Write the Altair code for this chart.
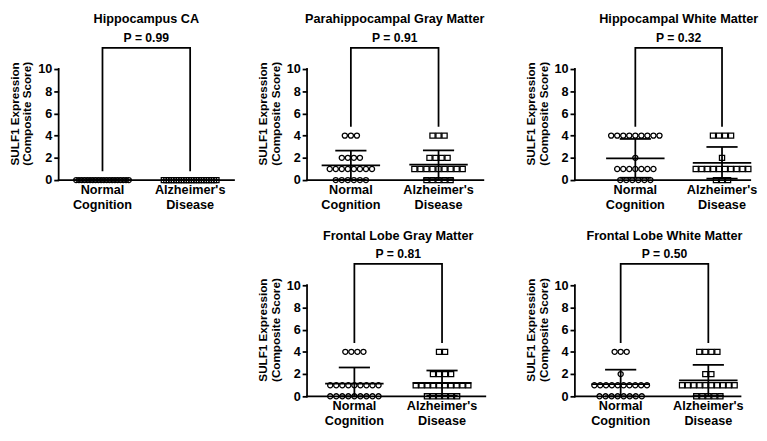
import altair as alt
import pandas as pd
import numpy as np

# ---------------- data ----------------
TITLES = ["Hippocampus CA", "Parahippocampal Gray Matter", "Hippocampal White Matter",
          "Frontal Lobe Gray Matter", "Frontal Lobe White Matter"]
P_VALUES = ["P = 0.99", "P = 0.91", "P = 0.32", "P = 0.81", "P = 0.50"]
CAT_LINE1 = ["Normal", "Alzheimer's"]
CAT_LINE2 = ["Cognition", "Disease"]
Y_TICKS = [0, 2, 4, 6, 8, 10]
Y_TITLE = ["SULF1 Expression", "(Composite Score)"]

HC_NORMAL = [0, 0, 0, 0, 0, 0, 0, 0, 0, 0, 0, 0, 0, 0, 0, 0, 0, 0, 0, 0]
HC_AD = [0, 0, 0, 0, 0, 0, 0, 0, 0, 0, 0, 0, 0, 0, 0, 0, 0, 0, 0, 0, 0, 0]
PHG_NORMAL = [4, 4, 4, 2, 2, 2, 2, 1, 1, 1, 1, 1, 1, 1, 1, 0, 0, 0, 0, 0, 0]
PHG_AD = [4, 4, 4, 2, 2, 2, 2, 1, 1, 1, 1, 1, 1, 1, 1, 1, 0, 0, 0, 0, 0]
HWM_NORMAL = [4, 4, 4, 4, 4, 4, 4, 4, 4, 2, 1, 1, 1, 1, 1, 1, 1, 0, 0, 0, 0, 0, 0]
HWM_AD = [4, 4, 4, 4, 2, 1, 1, 1, 1, 1, 1, 1, 1, 1, 1, 0, 0, 0]
FGM_NORMAL = [4, 4, 4, 4, 1, 1, 1, 1, 1, 1, 1, 1, 1, 0, 0, 0, 0, 0, 0, 0, 0, 0]
FGM_AD = [4, 4, 2, 2, 2, 2, 1, 1, 1, 1, 1, 1, 1, 1, 1, 1, 0, 0, 0, 0, 0, 0]
FWM_NORMAL = [4, 4, 4, 2, 1, 1, 1, 1, 1, 1, 1, 1, 1, 1, 0, 0, 0, 0, 0, 0, 0, 0]
FWM_AD = [4, 4, 4, 4, 2, 2, 1, 1, 1, 1, 1, 1, 1, 1, 1, 1, 0, 0, 0, 0, 0]

# ---------------- style ----------------
FONT = "Liberation Sans"
LW = 1.8
DOT_STEP_PX = 6.2
MAX_SPAN_PX = 54
MEAN_HALF_PX = 30
CAP_HALF_PX = 16
BRACKET_Y = 11.9
PLOT_H = 137


def panel(title, pval, normal, ad, cell_w=180, xmin=-0.5, ppu=90.0, axis_len=180):
    xmax = xmin + cell_w / ppu
    dx = (0.5 - xmin) * ppu - cell_w / 2   # centre title over the bracket
    xs = alt.Scale(domain=[xmin, xmax], nice=False, zero=False)
    ys = alt.Scale(domain=[0, 12], nice=False, zero=True)
    yax = alt.Axis(values=Y_TICKS, title=Y_TITLE, grid=False, domain=False, ticks=True,
                   tickSize=5, labelPadding=2, titlePadding=4, titleLineHeight=13,
                   labelOverlap=False)

    rows = []
    segs = []
    for gi, (vals, g) in enumerate([(normal, "Normal"), (ad, "AD")]):
        vals = list(vals)
        for v in sorted(set(vals)):
            n = vals.count(v)
            step = DOT_STEP_PX if n == 1 else min(DOT_STEP_PX, MAX_SPAN_PX / (n - 1))
            for i in range(n):
                rows.append({"x": gi + (i - (n - 1) / 2) * step / ppu, "y": v, "g": g})
        arr = np.array(vals, dtype=float)
        m = arr.mean()
        s = arr.std(ddof=1)
        hi = m + s
        lo = max(m - s, 0.0)
        mh = MEAN_HALF_PX / ppu
        ch = CAP_HALF_PX / ppu
        segs.append({"x": gi - mh, "x2": gi + mh, "y": m, "y2": m})
        segs.append({"x": gi - ch, "x2": gi + ch, "y": hi, "y2": hi})
        segs.append({"x": gi - ch, "x2": gi + ch, "y": lo, "y2": lo})
        segs.append({"x": gi, "x2": gi, "y": lo, "y2": hi})
    pts = pd.DataFrame(rows)
    seg_df = pd.DataFrame(segs)

    brk = pd.DataFrame({
        "x": [0, 0, 1, 1],
        "y": [max(normal) + 0.8, BRACKET_Y, BRACKET_Y, max(ad) + 0.8],
        "o": [0, 1, 2, 3],
    })
    axes_df = pd.DataFrame({
        "x": [xmin, xmin], "x2": [xmin, xmin + axis_len / ppu],
        "y": [0, 0], "y2": [10, 0],
    })
    cats = pd.DataFrame({"x": [0, 1], "l1": CAT_LINE1, "l2": CAT_LINE2})

    X = lambda f: alt.X(f, type="quantitative", scale=xs, axis=None)
    Y = lambda f: alt.Y(f, type="quantitative", scale=ys, axis=yax)

    axlines = alt.Chart(axes_df).mark_rule(color="black", strokeWidth=LW,
                                           strokeCap="square").encode(
        x=X("x"), x2="x2", y=Y("y"), y2="y2")
    points = alt.Chart(pts).mark_point(filled=False, size=28, strokeWidth=1.3,
                                        color="black", opacity=1).encode(
        x=X("x"), y=Y("y"),
        shape=alt.Shape("g:N", scale=alt.Scale(domain=["Normal", "AD"],
                                                range=["circle", "square"]), legend=None))
    bars = alt.Chart(seg_df).mark_rule(color="black", strokeWidth=LW).encode(
        x=X("x"), x2="x2", y=Y("y"), y2="y2")
    bracket = alt.Chart(brk).mark_line(color="black", strokeWidth=LW).encode(
        x=X("x"), y=Y("y"), order="o:Q")
    txt = dict(font=FONT, fontSize=13, fontWeight="bold", color="black",
               align="center", baseline="top")
    lab1 = alt.Chart(cats).mark_text(**txt).encode(
        x=X("x"), y=alt.value(PLOT_H + 4.5), text="l1:N")
    lab2 = alt.Chart(cats).mark_text(**txt).encode(
        x=X("x"), y=alt.value(PLOT_H + 19.5), text="l2:N")

    return alt.layer(axlines, points, bars, bracket, lab1, lab2).properties(
        width=cell_w, height=PLOT_H,
        title=alt.TitleParams(text=title, subtitle=pval, font=FONT, subtitleFont=FONT,
                              fontSize=13, subtitleFontSize=12.5, fontWeight="bold",
                              subtitleFontWeight="bold", color="black",
                              subtitleColor="black", anchor="middle", offset=0,
                              subtitlePadding=6, dx=dx, dy=0))


p1 = panel(TITLES[0], P_VALUES[0], HC_NORMAL, HC_AD, cell_w=180, axis_len=180)
p2 = panel(TITLES[1], P_VALUES[1], PHG_NORMAL, PHG_AD, cell_w=180, axis_len=181)
p3 = panel(TITLES[2], P_VALUES[2], HWM_NORMAL, HWM_AD, cell_w=180, xmin=-0.697, ppu=89.0,
           axis_len=180)
blank = alt.Chart(pd.DataFrame({"v": [0]})).mark_point(opacity=0).properties(
    width=173, height=PLOT_H)
p4 = panel(TITLES[3], P_VALUES[3], FGM_NORMAL, FGM_AD, cell_w=200, xmin=-0.54,
           axis_len=183)
p5 = panel(TITLES[4], P_VALUES[4], FWM_NORMAL, FWM_AD, cell_w=170, xmin=-0.522,
           axis_len=170)

chart = alt.concat(
    p1, p2, p3, blank, p4, p5, columns=3,
    spacing={"row": 85, "column": 75}, bounds="flush", align="none"
).properties(padding=0).configure_view(
    stroke=None
).configure_axis(
    tickColor="black", tickWidth=LW,
    labelColor="black", labelFont=FONT, labelFontSize=13, labelFontWeight="bold",
    titleColor="black", titleFont=FONT, titleFontSize=12, titleFontWeight="bold"
)

chart.save("out.html", embed_options={"renderer": "svg", "actions": False})
